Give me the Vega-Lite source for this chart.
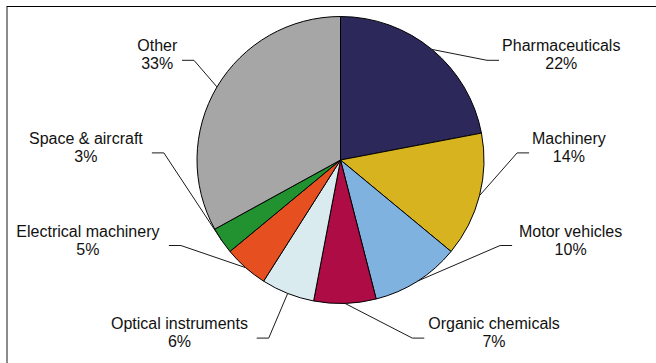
{
  "$schema": "https://vega.github.io/schema/vega-lite/v6.json",
  "width": 650,
  "height": 357,
  "padding": {"left": 6, "top": 6, "right": 0, "bottom": 0},
  "autosize": {"type": "none"},
  "background": "white",
  "data": {
    "values": [
      {"category": "Pharmaceuticals", "value": 22},
      {"category": "Machinery", "value": 14},
      {"category": "Motor vehicles", "value": 10},
      {"category": "Organic chemicals", "value": 7},
      {"category": "Optical instruments", "value": 6},
      {"category": "Electrical machinery", "value": 5},
      {"category": "Space & aircraft", "value": 3},
      {"category": "Other", "value": 33}
    ]
  },
  "transform": [
    {"window": [{"op": "row_number", "as": "idx"}]},
    {"joinaggregate": [{"op": "sum", "field": "value", "as": "total"}]},
    {"window": [{"op": "sum", "field": "value", "as": "cum"}], "sort": [{"field": "idx"}], "frame": [null, 0]},
    {"calculate": "2 * PI * (datum.cum - datum.value / 2) / datum.total", "as": "mid"},
    {"calculate": "sin(datum.mid) > 0 ? 1 : -1", "as": "side"},
    {"calculate": "datum.side * datum.mid", "as": "sideKey"},
    {"window": [{"op": "rank", "as": "slot"}], "groupby": ["side"], "sort": [{"field": "sideKey"}]},
    {"calculate": "-104.7 + 92.6 * (datum.slot - 1)", "as": "labelY"},
    {"calculate": "datum.side * sqrt(195 * 195 - datum.labelY * datum.labelY)", "as": "edgeX"},
    {"calculate": "datum.edgeX + datum.side * length(datum.category) * 3.75", "as": "labelX"},
    {"calculate": "143.5 * sin(datum.mid)", "as": "rimX"},
    {"calculate": "-143.5 * cos(datum.mid)", "as": "rimY"},
    {"calculate": "datum.edgeX - datum.side * 18", "as": "elbowX"},
    {"calculate": "datum.edgeX - datum.side * 6", "as": "tipX"},
    {"calculate": "datum.labelY + 5", "as": "leaderY"},
    {"calculate": "datum.category + '\\n' + datum.value + '%'", "as": "label"}
  ],
  "layer": [
    {
      "mark": {"type": "arc", "radius": 143.5, "stroke": "#000000", "strokeWidth": 1, "strokeJoin": "round"},
      "encoding": {
        "theta": {"field": "value", "type": "quantitative", "stack": true},
        "order": {"field": "idx", "type": "quantitative"},
        "color": {
          "field": "category",
          "type": "nominal",
          "legend": null,
          "scale": {
            "domain": ["Pharmaceuticals", "Machinery", "Motor vehicles", "Organic chemicals", "Optical instruments", "Electrical machinery", "Space & aircraft", "Other"],
            "range": ["#2d285a", "#d6b31f", "#80b2e0", "#ad0c44", "#daebf0", "#e64f1f", "#22912f", "#a6a6a6"]
          }
        },
        "x": {"datum": 0, "type": "quantitative", "title": null, "scale": {"domain": [-334.5, 315.5], "nice": false, "zero": false}, "axis": {"orient": "top"}},
        "y": {"datum": 0, "type": "quantitative", "title": null, "scale": {"domain": [-154, 203], "nice": false, "zero": false, "reverse": true}}
      }
    },
    {
      "mark": {"type": "rule", "color": "#1a1a1a", "strokeWidth": 1},
      "encoding": {
        "x": {"field": "rimX", "type": "quantitative", "title": null, "scale": {"domain": [-334.5, 315.5], "nice": false, "zero": false}, "axis": {"orient": "top"}},
        "y": {"field": "rimY", "type": "quantitative", "title": null, "scale": {"domain": [-154, 203], "nice": false, "zero": false, "reverse": true}},
        "x2": {"field": "elbowX"},
        "y2": {"field": "leaderY"}
      }
    },
    {
      "mark": {"type": "rule", "color": "#1a1a1a", "strokeWidth": 1},
      "encoding": {
        "x": {"field": "elbowX", "type": "quantitative", "title": null, "scale": {"domain": [-334.5, 315.5], "nice": false, "zero": false}, "axis": {"orient": "top"}},
        "y": {"field": "leaderY", "type": "quantitative", "title": null, "scale": {"domain": [-154, 203], "nice": false, "zero": false, "reverse": true}},
        "x2": {"field": "tipX"}
      }
    },
    {
      "mark": {"type": "text", "font": "Liberation Sans", "fontSize": 16, "lineHeight": 18, "lineBreak": "\n", "align": "center", "baseline": "middle", "dy": -9, "color": "#111111"},
      "encoding": {
        "x": {"field": "labelX", "type": "quantitative", "title": null, "scale": {"domain": [-334.5, 315.5], "nice": false, "zero": false}, "axis": {"orient": "top"}},
        "y": {"field": "labelY", "type": "quantitative", "title": null, "scale": {"domain": [-154, 203], "nice": false, "zero": false, "reverse": true}},
        "text": {"field": "label", "type": "nominal"}
      }
    }
  ],
  "config": {
    "view": {"stroke": null},
    "axis": {"labels": false, "ticks": false, "grid": false, "domain": true},
    "axisX": {"domainColor": "#000000", "domainWidth": 1},
    "axisY": {"domainColor": "#8c8c8c", "domainWidth": 2, "translate": 1}
  }
}
